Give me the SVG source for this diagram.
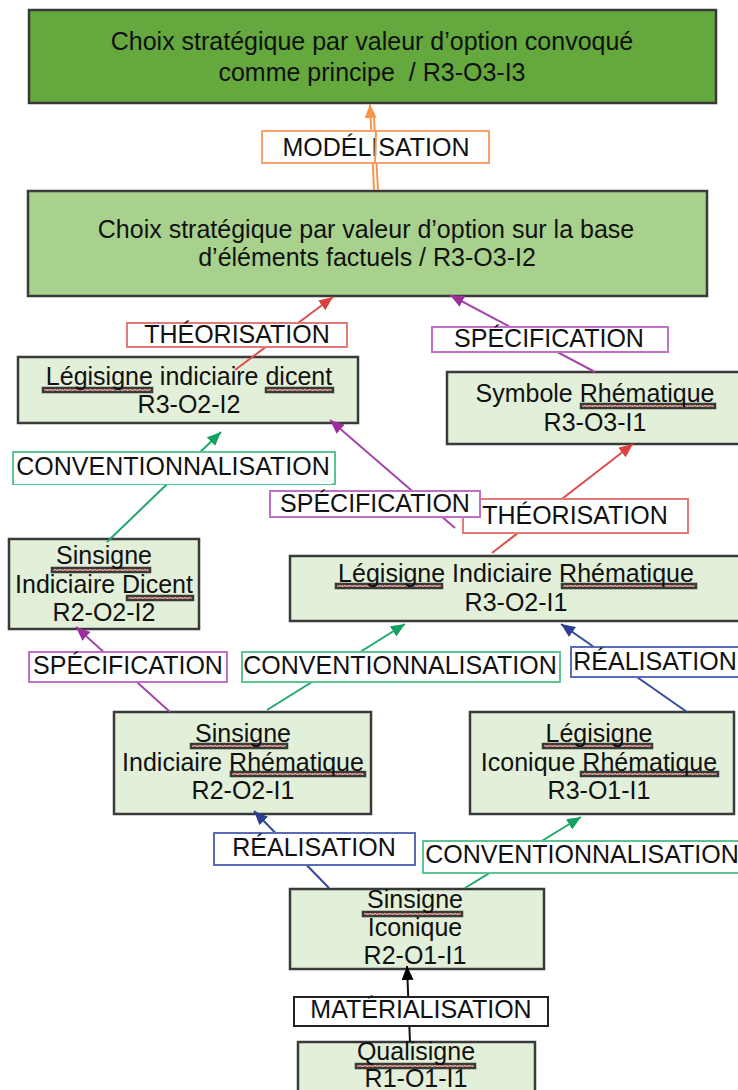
<svg xmlns="http://www.w3.org/2000/svg" width="738" height="1090" viewBox="0 0 738 1090">
<style>
text{font-family:"Liberation Sans",Arial,sans-serif;font-size:25px;fill:#111;text-anchor:middle}
.n rect{stroke:#3a3a3a;stroke-width:2.5}
.lt{fill:#e2efd9}
.lab rect{fill:#fff;stroke-width:2}
.sq{fill:url(#sq)}
.c line{stroke-width:2;fill:none}
.or{stroke:#f79646}.rd{stroke:#dc4e4e}.pu{stroke:#a447a8}.gr{stroke:#22a86a}.bl{stroke:#34499c}.bk{stroke:#111}
.lor{stroke:#f7a270}.lrd{stroke:#e27a7a}.lpu{stroke:#c071c6}.lgr{stroke:#5cc592}.lbl{stroke:#5a6cb8}.lbk{stroke:#222}
</style>
<defs>
<pattern id="sq" width="5" height="4" patternUnits="userSpaceOnUse"><polyline points="0,3.4 2.5,0.6 5,3.4" fill="none" stroke="#ff1a1a" stroke-width="0.9"/></pattern>
<marker id="aor" viewBox="0 0 14 12" refX="14" refY="6" markerWidth="14" markerHeight="12" markerUnits="userSpaceOnUse" orient="auto"><path d="M0,0 L14,6 L0,12 z" fill="#f79646"/></marker>
<marker id="ard" viewBox="0 0 14 12" refX="14" refY="6" markerWidth="14" markerHeight="12" markerUnits="userSpaceOnUse" orient="auto"><path d="M0,0 L14,6 L0,12 z" fill="#dc4040"/></marker>
<marker id="apu" viewBox="0 0 14 12" refX="14" refY="6" markerWidth="14" markerHeight="12" markerUnits="userSpaceOnUse" orient="auto"><path d="M0,0 L14,6 L0,12 z" fill="#9c2f9e"/></marker>
<marker id="agr" viewBox="0 0 14 12" refX="14" refY="6" markerWidth="14" markerHeight="12" markerUnits="userSpaceOnUse" orient="auto"><path d="M0,0 L14,6 L0,12 z" fill="#14a262"/></marker>
<marker id="abl" viewBox="0 0 14 12" refX="14" refY="6" markerWidth="14" markerHeight="12" markerUnits="userSpaceOnUse" orient="auto"><path d="M0,0 L14,6 L0,12 z" fill="#2a3f94"/></marker>
<marker id="abk" viewBox="0 0 14 12" refX="14" refY="6" markerWidth="14" markerHeight="12" markerUnits="userSpaceOnUse" orient="auto"><path d="M0,0 L14,6 L0,12 z" fill="#000"/></marker>
</defs>
<rect width="738" height="1090" fill="#fff"/>

<g id="n-r3o3i3" class="n">
<rect x="29" y="10" width="687" height="93" fill="#64a83e"/>
<text x="372" y="50">Choix stratégique par valeur d’option convoqué</text>
<text x="372" y="81">comme principe&#160; / R3-O3-I3</text>
</g>
<g id="n-r3o3i2" class="n">
<rect x="28" y="191" width="679" height="105" fill="#a9d18e"/>
<text x="366" y="238">Choix stratégique par valeur d’option sur la base</text>
<text x="367" y="266">d’éléments factuels / R3-O3-I2</text>
</g>
<g id="n-r3o2i2" class="n">
<rect x="18" y="357" width="340" height="66" class="lt"/>
<rect x="43" y="388" width="109" height="4" class="sq"/>
<rect x="266" y="388" width="67" height="4" class="sq"/>
<text x="189" y="385">Légisigne indiciaire dicent</text>
<text x="189" y="413">R3-O2-I2</text>
</g>
<g id="n-r3o3i1" class="n">
<rect x="447" y="372" width="300" height="72" class="lt"/>
<rect x="581" y="404" width="134" height="4" class="sq"/>
<text x="595" y="402">Symbole Rhématique</text>
<text x="595" y="431">R3-O3-I1</text>
</g>
<g id="n-r2o2i2" class="n">
<rect x="9" y="539" width="190" height="90" class="lt"/>
<rect x="52" y="568" width="98" height="4" class="sq"/>
<rect x="127" y="596" width="66" height="4" class="sq"/>
<text x="104" y="564">Sinsigne</text>
<text x="104" y="593">Indiciaire Dicent</text>
<text x="104" y="621">R2-O2-I2</text>
</g>
<g id="n-r3o2i1" class="n">
<rect x="290" y="556" width="460" height="65" class="lt"/>
<rect x="336" y="584" width="106" height="4" class="sq"/>
<rect x="562" y="584" width="134" height="4" class="sq"/>
<text x="516" y="582">Légisigne Indiciaire Rhématique</text>
<text x="516" y="611">R3-O2-I1</text>
</g>
<g id="n-r2o2i1" class="n">
<rect x="114" y="712" width="257" height="102" class="lt"/>
<rect x="191" y="744" width="96" height="4" class="sq"/>
<rect x="231" y="772" width="134" height="4" class="sq"/>
<text x="243" y="742">Sinsigne</text>
<text x="243" y="771">Indiciaire Rhématique</text>
<text x="243" y="799">R2-O2-I1</text>
</g>
<g id="n-r3o1i1" class="n">
<rect x="470" y="712" width="264" height="102" class="lt"/>
<rect x="543" y="744" width="109" height="4" class="sq"/>
<rect x="581" y="772" width="137" height="4" class="sq"/>
<text x="599" y="742">Légisigne</text>
<text x="599" y="771">Iconique Rhématique</text>
<text x="599" y="799">R3-O1-I1</text>
</g>
<g id="n-r2o1i1" class="n">
<rect x="290" y="889" width="254" height="80" class="lt"/>
<rect x="363" y="912" width="99" height="4" class="sq"/>
<text x="415" y="908">Sinsigne</text>
<text x="415" y="936">Iconique</text>
<text x="415" y="964">R2-O1-I1</text>
</g>
<g id="n-r1o1i1" class="n">
<rect x="298" y="1042" width="237" height="60" class="lt"/>
<rect x="356" y="1064" width="119" height="4" class="sq"/>
<text x="416" y="1060">Qualisigne</text>
<text x="416" y="1087">R1-O1-I1</text>
</g>

<g id="connectors" class="c">
<line x1="374" y1="190" x2="370" y2="104" class="or" marker-end="url(#aor)"/>
<line x1="378" y1="190" x2="374" y2="118" class="or"/>
<line x1="235" y1="370" x2="333" y2="297" class="rd" marker-end="url(#ard)"/>
<line x1="595" y1="372" x2="450" y2="295" class="pu" marker-end="url(#apu)"/>
<line x1="107" y1="542" x2="221" y2="432" class="gr" marker-end="url(#agr)"/>
<line x1="455" y1="528" x2="330" y2="420" class="pu" marker-end="url(#apu)"/>
<line x1="492" y1="553" x2="633" y2="444" class="rd" marker-end="url(#ard)"/>
<line x1="170" y1="712" x2="76" y2="627" class="pu" marker-end="url(#apu)"/>
<line x1="267" y1="710" x2="405" y2="624" class="gr" marker-end="url(#agr)"/>
<line x1="687" y1="712" x2="561" y2="624" class="bl" marker-end="url(#abl)"/>
<line x1="329" y1="888" x2="254" y2="811" class="bl" marker-end="url(#abl)"/>
<line x1="465" y1="888" x2="581" y2="817" class="gr" marker-end="url(#agr)"/>
<line x1="410" y1="1042" x2="407" y2="966" class="bk" marker-end="url(#abk)"/>

<g id="l-modelisation" class="lab"><rect x="262" y="131" width="227" height="32" class="lor"/><text x="376" y="156">MODÉLISATION</text></g>
<line x1="376" y1="131" x2="375" y2="163" class="or" stroke-width="1.5"/>
<g id="l-theo1" class="lab"><rect x="127" y="323" width="220" height="24" class="lrd"/><text x="237" y="343">THÉORISATION</text></g>
<g id="l-spec1" class="lab"><rect x="432" y="327" width="236" height="25" class="lpu"/><text x="549" y="347">SPÉCIFICATION</text></g>
<g id="l-conv1" class="lab"><rect x="13" y="452" width="322" height="32" class="lgr"/><rect x="14" y="480" width="318" height="4" class="sq"/><text x="173" y="475">CONVENTIONNALISATION</text></g>
<g id="l-theo2" class="lab"><rect x="463" y="499" width="225" height="34" class="lrd"/><text x="575" y="524">THÉORISATION</text></g>
<g id="l-spec2" class="lab"><rect x="270" y="491" width="210" height="26" class="lpu"/><text x="375" y="512">SPÉCIFICATION</text></g>
<g id="l-spec3" class="lab"><rect x="29" y="652" width="198" height="30" class="lpu"/><text x="128" y="674">SPÉCIFICATION</text></g>
<g id="l-conv2" class="lab"><rect x="242" y="652" width="318" height="30" class="lgr"/><rect x="243" y="676" width="315" height="4" class="sq"/><text x="400" y="674">CONVENTIONNALISATION</text></g>
<g id="l-real1" class="lab"><rect x="571" y="647" width="175" height="30" class="lbl"/><text x="655" y="670">RÉALISATION</text></g>
<g id="l-real2" class="lab"><rect x="214" y="833" width="201" height="32" class="lbl"/><text x="314" y="856">RÉALISATION</text></g>
<g id="l-conv3" class="lab"><rect x="423" y="841" width="325" height="32" class="lgr"/><rect x="426" y="868" width="312" height="4" class="sq"/><text x="582" y="863">CONVENTIONNALISATION</text></g>
<g id="l-mat" class="lab"><rect x="294" y="997" width="254" height="29" class="lbk"/><text x="421" y="1018">MATÉRIALISATION</text></g>
</g>
</svg>
